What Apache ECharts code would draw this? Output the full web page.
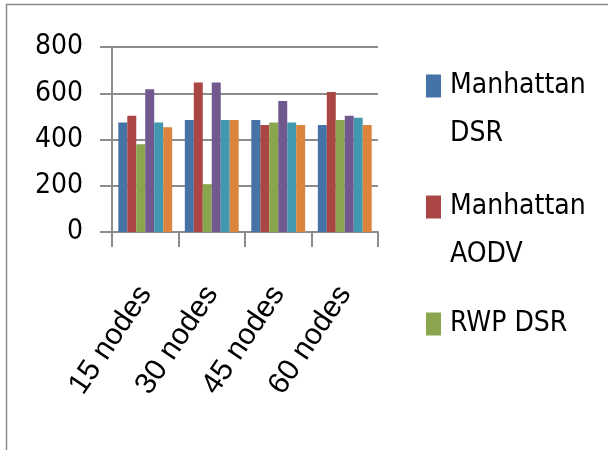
<!DOCTYPE html>
<html>
<head>
<meta charset="utf-8">
<script src="https://cdn.jsdelivr.net/npm/echarts@6/dist/echarts.min.js"></script>
<style>html,body{margin:0;padding:0;background:#fff;}#c{width:608px;height:450px;}</style>
</head>
<body>
<div id="c"></div>
<script>
var categories = ['15 nodes', '30 nodes', '45 nodes', '60 nodes'];
var seriesNames = ['Manhattan DSR', 'Manhattan AODV', 'RWP DSR', 'RWP AODV', 'Freeway DSR', 'Freeway AODV'];
var manhattanDSR  = [473, 484, 484, 463];
var manhattanAODV = [503, 647, 463, 605];
var rwpDSR        = [380, 207, 473, 484];
var rwpAODV       = [617, 647, 566, 503];
var freewayDSR    = [473, 484, 473, 494];
var freewayAODV   = [453, 484, 463, 463];
var yTicks = [0, 200, 400, 600, 800];
var colors = ['#4572A7', '#AA4643', '#89A54E', '#71588F', '#4198AF', '#DB843D'];

var values = [manhattanDSR, manhattanAODV, rwpDSR, rwpAODV, freewayDSR, freewayAODV];
var narrow = '"Liberation Sans Narrow", "DejaVu Sans Condensed", sans-serif';

var chart = echarts.init(document.getElementById('c'));
function legendFor(name, top) {
  return {
    data: [name],
    orient: 'vertical',
    left: 426,
    top: top,
    padding: 0,
    icon: 'rect',
    itemWidth: 15,
    itemHeight: 23,
    selectedMode: false,
    formatter: function (n) {
      return n.indexOf('Manhattan') === 0 ? ' \n' + n.replace(' ', '\n') : n;
    },
    textStyle: { fontFamily: narrow, fontSize: 28, lineHeight: 48, color: '#000', padding: [0, 0, 0, 4] }
  };
}
chart.setOption({
  animation: false,
  color: colors,
  graphic: [{
    type: 'rect', silent: true,
    shape: { x: 6.5, y: 4.5, width: 700, height: 500 },
    style: { fill: 'none', stroke: '#8a8a8a', lineWidth: 1.5 }
  }],
  legend: [legendFor(seriesNames[0], 14), legendFor(seriesNames[1], 135), legendFor(seriesNames[2], 300)],
  grid: { left: 112, top: 47, right: 230, bottom: 218, containLabel: false },
  xAxis: {
    type: 'category',
    data: categories,
    axisLine: { lineStyle: { color: '#8c8c8c', width: 2 } },
    axisTick: { show: true, length: 15, alignWithLabel: false, lineStyle: { color: '#8c8c8c', width: 2 } },
    axisLabel: { rotate: 56, margin: 57, fontFamily: '"Liberation Sans", sans-serif', fontSize: 30, color: '#000', interval: 0 }
  },
  yAxis: {
    type: 'value',
    min: yTicks[0],
    max: yTicks[yTicks.length - 1],
    interval: 200,
    axisLine: { show: true, lineStyle: { color: '#8c8c8c', width: 2 } },
    axisTick: { show: true, length: 12, lineStyle: { color: '#8c8c8c', width: 2 } },
    splitLine: { lineStyle: { color: '#8c8c8c', width: 2 } },
    axisLabel: { margin: 29, fontFamily: narrow, fontSize: 28, color: '#000' }
  },
  series: values.map(function (v, i) {
    return {
      name: seriesNames[i],
      type: 'bar',
      data: v,
      barGap: '0%',
      barCategoryGap: '19%'
    };
  })
});
</script>
</body>
</html>
